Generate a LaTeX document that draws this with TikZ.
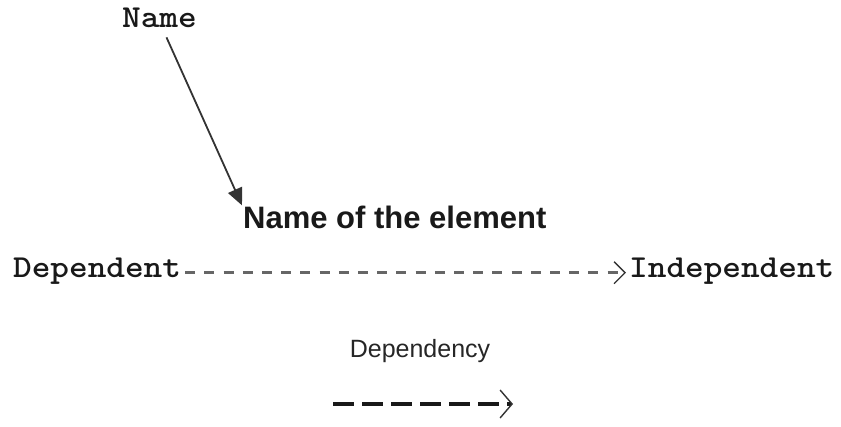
\documentclass[tikz,border=0pt]{standalone}
\usepackage{fontspec}
\usetikzlibrary{arrows.meta}
\newfontfamily\monofam{lmmonolt10-bold.otf}[FakeStretch=1.11]
\newfontfamily\sansfam{Liberation Sans}
\begin{document}
\begin{tikzpicture}[x=1pt,y=-1pt,
  codetext/.style={inner sep=0pt, anchor=base west, font=\monofam\fontsize{32}{36}\selectfont, text=black!90},
  labeltext/.style={inner sep=0pt, anchor=base west, font=\sansfam\bfseries\fontsize{31}{36}\selectfont, text=black!90},
  captext/.style={inner sep=0pt, anchor=base, font=\sansfam\fontsize{25}{30}\selectfont, text=black!85},
  pointer/.style={line width=1.8pt, draw=black!80, -{Triangle[length=17pt,width=15pt]}},
  deparrow/.style={line width=2.8pt, draw=black!60, dash pattern=on 10pt off 9.2pt,
    -{Straight Barb[length=11pt,width=22pt,line width=1.3pt,black!80]}},
  legendarrow/.style={line width=4pt, draw=black!90, dash pattern=on 21pt off 8pt,
    -{Straight Barb[length=12pt,width=28pt,line width=1.4pt,black!80]}}]
\useasboundingbox (0,0) rectangle (841,427);

% annotated name and its pointer
\node[codetext] (nm) at (122,28) {Name};
\node[labeltext] (el) at (243,229) {Name of the element};
\draw[pointer] ([xshift=7pt,yshift=-9pt]nm.south) -- ([xshift=-1pt,yshift=1pt]el.north west);

% dependency between two elements
\node[codetext] (dep) at (13,278) {Dependent};
\node[codetext] (ind) at (629,278) {Independent};
\draw[deparrow] ([xshift=4pt,yshift=-1pt]dep.east) -- ([xshift=-3pt,yshift=-1pt]ind.west);

% legend
\node[captext] (cap) at (420,358) {Dependency};
\coordinate (ls) at (333,404);
\coordinate (le) at (513,404);
\draw[legendarrow] (ls) -- (le);
\end{tikzpicture}
\end{document}
